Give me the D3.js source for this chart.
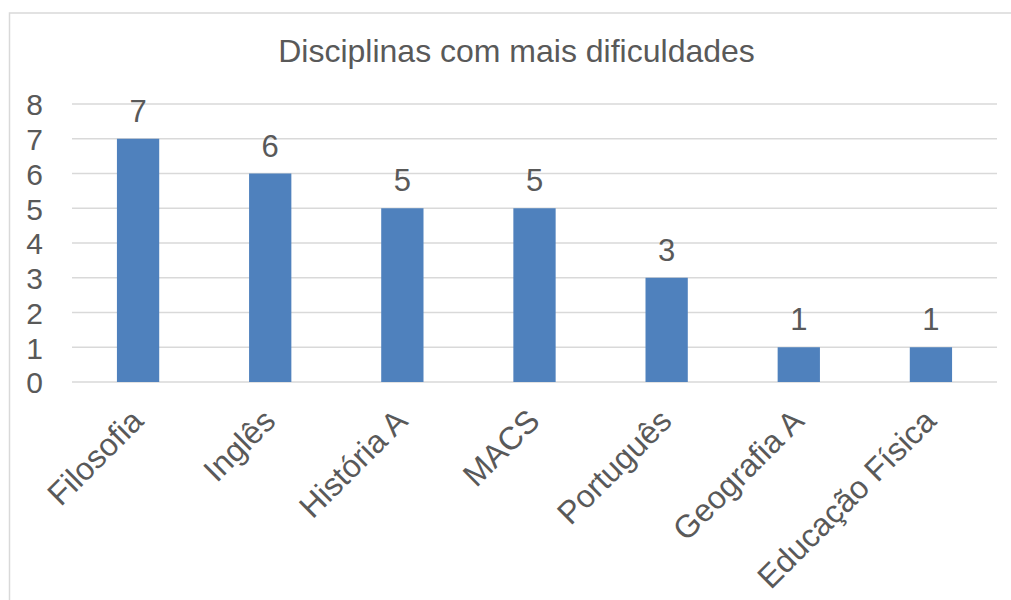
<!DOCTYPE html>
<html lang="pt">
<head>
    <meta charset="UTF-8">
    <title>Disciplinas com mais dificuldades</title>
    <script src="https://d3js.org/d3.v7.min.js"></script>
    <style>
        body { margin: 0; background: #fff; }
        text { font-family: "Liberation Sans", Arial, sans-serif; fill: #595959; }
    </style>
</head>
<body>
    <svg id="chart" width="1011" height="600"></svg>
    <script>
        // Data
        const categories = ["Filosofia", "Inglês", "História A", "MACS", "Português", "Geografia A", "Educação Física"];
        const values = [7, 6, 5, 5, 3, 1, 1];
        const yTicks = [0, 1, 2, 3, 4, 5, 6, 7, 8];

        const svg = d3.select("#chart");
        const plot = { left: 72, right: 997, top: 104, bottom: 382 };

        // chart border
        svg.append("rect")
            .attr("x", 9.5).attr("y", 13)
            .attr("width", 1020).attr("height", 620)
            .attr("fill", "none")
            .attr("stroke", "#d9d9d9")
            .attr("stroke-width", 1.5);

        const x = d3.scaleBand()
            .domain(categories)
            .range([plot.left, plot.right])
            .paddingInner(0.68)
            .paddingOuter(0.34);

        const y = d3.scaleLinear()
            .domain([0, 8])
            .range([plot.bottom, plot.top]);

        // gridlines
        svg.append("g")
            .selectAll("line")
            .data(yTicks)
            .enter().append("line")
            .attr("x1", plot.left).attr("x2", plot.right)
            .attr("y1", d => y(d)).attr("y2", d => y(d))
            .attr("stroke", "#d9d9d9")
            .attr("stroke-width", 1.5);

        // y axis labels
        const yAxis = svg.append("g")
            .attr("transform", "translate(" + (plot.left - 29) + ",0)")
            .call(d3.axisLeft(y).tickValues(yTicks).tickSize(0).tickPadding(0));
        yAxis.select(".domain").remove();
        yAxis.selectAll("text")
            .style("font-size", "30px")
            .attr("fill", "#595959")
            .attr("font-family", "Liberation Sans, Arial, sans-serif")
            .attr("dy", "0.36em");

        // bars
        svg.append("g")
            .selectAll("rect")
            .data(values)
            .enter().append("rect")
            .attr("x", (d, i) => x(categories[i]))
            .attr("y", d => y(d))
            .attr("width", x.bandwidth())
            .attr("height", d => y(0) - y(d))
            .attr("fill", "#4f81bd");

        // data labels
        svg.append("g")
            .selectAll("text")
            .data(values)
            .enter().append("text")
            .attr("x", (d, i) => x(categories[i]) + x.bandwidth() / 2)
            .attr("y", d => y(d) - 17)
            .attr("text-anchor", "middle")
            .style("font-size", "31px")
            .text(d => d);

        // category labels
        svg.append("g")
            .selectAll("text")
            .data(categories)
            .enter().append("text")
            .attr("transform", d => "translate(" + (x(d) + x.bandwidth() / 2 + 7) + ",423) rotate(-45)")
            .attr("text-anchor", "end")
            .style("font-size", "32px")
            .text(d => d);

        // title
        svg.append("text")
            .attr("x", 516.5)
            .attr("y", 62)
            .attr("text-anchor", "middle")
            .style("font-size", "32px")
            .text("Disciplinas com mais dificuldades");
    </script>
</body>
</html>
